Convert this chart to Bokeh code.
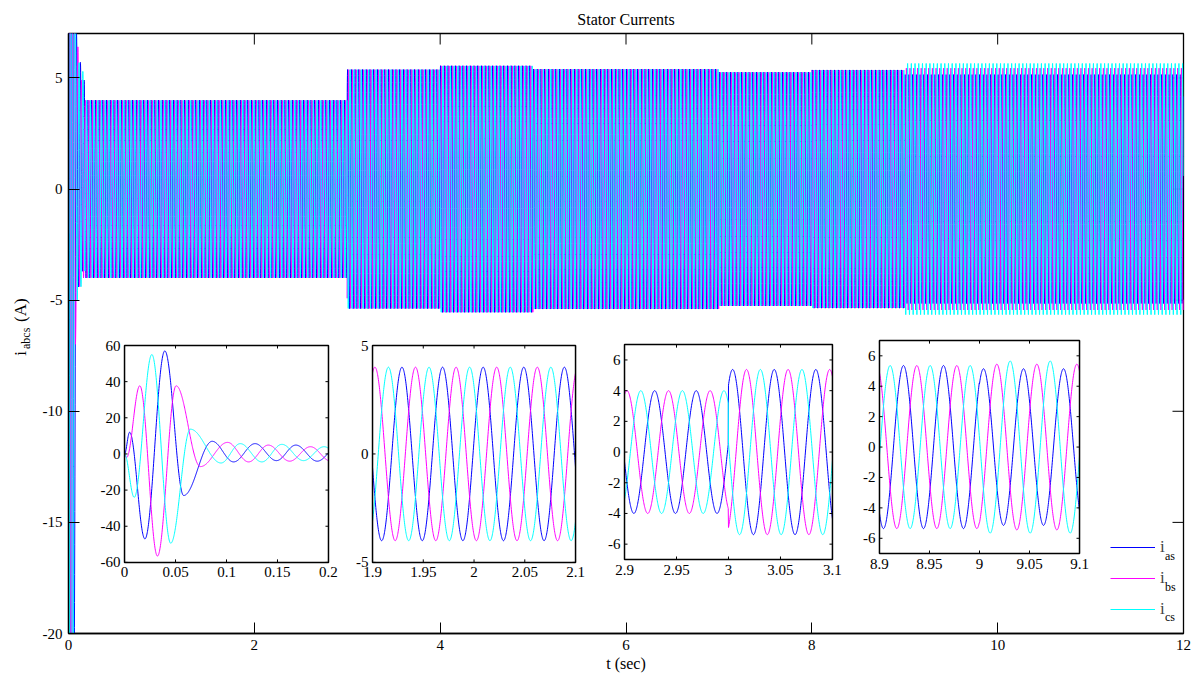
import numpy as np
from bokeh.plotting import figure
from bokeh.layouts import row
from bokeh.models import Range1d, Label, Legend, LegendItem, FixedTicker
from bokeh.core.properties import value
from bokeh.embed import file_html
from bokeh.resources import INLINE

FONT = "Liberation Serif"

# ------------------------------------------------------------------ data
TITLE = "Stator Currents"
X_LABEL = "t (sec)"
SUPPLY_HZ = 25.0          # electrical frequency
T_END = 12.0

# start-up transient: successive crests / troughs (t [s], i [A])
ext_t_as = [0.0, 0.005, 0.020, 0.0395, 0.058, 0.086, 0.107, 0.128, 0.149, 0.168, 0.189]
ext_i_as = [0.0, 12.0, -47.0, 57.0, -23.0, 7.0, -4.4, 5.7, -3.7, 4.9, -4.0]
ext_t_bs = [0.0, 0.002, 0.015, 0.0323, 0.0506, 0.0744, 0.101, 0.1217, 0.141, 0.162, 0.1823]
ext_i_bs = [0.0, -2.0, 37.7, -56.5, 37.7, -7.0, 6.4, -4.4, 4.9, -4.0, 4.0]
ext_t_cs = [0.0, 0.0095, 0.0268, 0.0453, 0.0646, 0.0946, 0.1135, 0.1347, 0.1543, 0.1755, 0.1957]
ext_i_cs = [0.0, -24.0, 55.0, -49.4, 13.7, -5.0, 5.7, -4.4, 5.3, -3.7, 4.0]

# steady-state segments between load steps: start, end and peak amplitude of each phase (A)
seg_start = [0.0, 3.0, 4.0, 5.0, 7.0, 8.0, 9.0]
seg_end = [3.0, 4.0, 5.0, 7.0, 8.0, 9.0, 12.0]
amp_as = [4.0, 5.38, 5.55, 5.40, 5.26, 5.36, 5.15]
amp_bs = [4.0, 5.38, 5.55, 5.40, 5.26, 5.36, 5.45]
amp_cs = [4.0, 5.38, 5.55, 5.40, 5.26, 5.36, 5.66]
crest_as = [1.929, 3.004, 3.004, 3.004, 3.004, 3.004, 3.004]   # time of an i_as crest in each segment

# main axes ticks
x_ticks = [0, 2, 4, 6, 8, 10, 12]
x_tick_labels = ["0", "2", "4", "6", "8", "10", "12"]
y_ticks = [-20, -15, -10, -5, 0, 5]
y_tick_labels = ["-20", "-15", "-10", "-5", "0", "5"]
Y_MIN, Y_MAX = -20, 7

# insets (zoomed windows)
inset_x_range = [(0.0, 0.2), (1.9, 2.1), (2.9, 3.1), (8.9, 9.1)]
inset_y_range = [(-60, 60), (-5, 5), (-7, 7), (-7, 7)]
inset_x_ticks = [[0, 0.05, 0.1, 0.15, 0.2], [1.9, 1.95, 2.0, 2.05, 2.1],
                 [2.9, 2.95, 3.0, 3.05, 3.1], [8.9, 8.95, 9.0, 9.05, 9.1]]
inset_x_labels = [["0", "0.05", "0.1", "0.15", "0.2"], ["1.9", "1.95", "2", "2.05", "2.1"],
                  ["2.9", "2.95", "3", "3.05", "3.1"], ["8.9", "8.95", "9", "9.05", "9.1"]]
inset_y_ticks = [[-60, -40, -20, 0, 20, 40, 60], [-5, 0, 5],
                 [-6, -4, -2, 0, 2, 4, 6], [-6, -4, -2, 0, 2, 4, 6]]
inset_y_labels = [["-60", "-40", "-20", "0", "20", "40", "60"], ["-5", "0", "5"],
                  ["-6", "-4", "-2", "0", "2", "4", "6"], ["-6", "-4", "-2", "0", "2", "4", "6"]]
# where each inset sits inside the main axes (t-left, t-right, i-bottom, i-top)
inset_box = [(0.603, 2.798, -16.80, -7.04), (3.272, 5.457, -16.80, -7.04),
             (5.984, 8.222, -16.67, -7.00), (8.728, 10.881, -16.40, -6.82)]

COL = {"as": "#0000FF", "bs": "#FF00FF", "cs": "#00FFFF"}
PERIOD = 1.0 / SUPPLY_HZ


# ------------------------------------------------------------------ waveform model
def interp_extrema(t, et, ei):
    et = np.asarray(et, float)
    ei = np.asarray(ei, float)
    idx = np.clip(np.searchsorted(et, t, side="right") - 1, 0, len(et) - 2)
    t0, t1 = et[idx], et[idx + 1]
    u = np.clip((t - t0) / (t1 - t0), 0.0, 1.0)
    w = (1.0 - np.cos(np.pi * u)) / 2.0
    return ei[idx] + (ei[idx + 1] - ei[idx]) * w


def steady(t, amps, shift):
    out = np.zeros_like(t)
    for k, (s, e, a, c) in enumerate(zip(seg_start, seg_end, amps, crest_as)):
        m = (t >= s) & ((t < e) if k < len(seg_start) - 1 else (t <= e))
        out[m] = a * np.cos(2 * np.pi * SUPPLY_HZ * (t[m] - c - shift))
    return out


def phase_current(t, et, ei, amps, shift):
    return np.where(t <= et[-1], interp_extrema(t, et, ei), steady(t, amps, shift))


PHASES = [
    ("as", ext_t_as, ext_i_as, amp_as, 0.0),
    ("bs", ext_t_bs, ext_i_bs, amp_bs, PERIOD / 3.0),
    ("cs", ext_t_cs, ext_i_cs, amp_cs, -PERIOD / 3.0),
]

# ------------------------------------------------------------------ y-axis label strip (left)
LBL_W = 36
lab = figure(width=LBL_W, height=683, x_range=Range1d(0, LBL_W), y_range=Range1d(683, 0),
             output_backend="svg", toolbar_location=None, x_axis_type=None, y_axis_type=None,
             min_border=0, min_border_left=0, min_border_right=0, min_border_top=0,
             min_border_bottom=0)
lab.outline_line_color = None
lab.xgrid.visible = False
lab.ygrid.visible = False
lab.background_fill_color = "white"
lab.border_fill_color = "white"
lab.add_layout(Label(x=20, y=364, text="i", angle=np.pi / 2, text_font=FONT,
                     text_font_size="17px", text_align="center", text_baseline="middle",
                     text_color="black"))
lab.add_layout(Label(x=25, y=347, text="abcs", angle=np.pi / 2, text_font=FONT,
                     text_font_size="12px", text_align="center", text_baseline="middle",
                     text_color="black"))
lab.add_layout(Label(x=20, y=315, text="(A)", angle=np.pi / 2, text_font=FONT,
                     text_font_size="17px", text_align="center", text_baseline="middle",
                     text_color="black"))

# ------------------------------------------------------------------ main figure
p = figure(width=1195 - LBL_W, height=683, x_range=Range1d(0, T_END), y_range=Range1d(Y_MIN, Y_MAX),
           output_backend="svg", toolbar_location=None, title=TITLE,
           min_border_left=68 - LBL_W, min_border_right=12, min_border_top=33, min_border_bottom=50)
p.background_fill_color = "white"
p.border_fill_color = "white"
p.xgrid.visible = False
p.ygrid.visible = False
p.outline_line_color = "black"
p.outline_line_width = 1.3
p.title.text_font = FONT
p.title.text_font_size = "16px"
p.title.text_font_style = "normal"
p.title.align = "center"
p.title.text_color = "black"
p.title.standoff = 11


def style_axis(ax, tick_len=11):
    ax.axis_line_color = "black"
    ax.axis_line_width = 1.3
    ax.major_tick_in = tick_len
    ax.major_tick_out = 0
    ax.major_tick_line_color = "black"
    ax.minor_tick_line_color = None
    ax.minor_tick_in = 0
    ax.minor_tick_out = 0
    ax.major_label_text_font = FONT
    ax.major_label_text_color = "black"
    ax.major_label_text_font_size = "15px"
    ax.major_label_standoff = 6


xa = p.xaxis[0]
xa.ticker = FixedTicker(ticks=x_ticks)
xa.major_label_overrides = {v: s for v, s in zip(x_ticks, x_tick_labels)}
style_axis(xa)
xa.axis_label = X_LABEL
xa.axis_label_text_font = FONT
xa.axis_label_text_font_size = "16px"
xa.axis_label_text_font_style = "normal"
xa.axis_label_text_color = "black"
xa.axis_label_standoff = 2

ya = p.yaxis[0]
ya.ticker = FixedTicker(ticks=y_ticks)
ya.major_label_overrides = {v: s for v, s in zip(y_ticks, y_tick_labels)}
style_axis(ya)

# mirrored inward ticks on the top and right edges of the box
p.ray(x=x_ticks, y=[Y_MAX] * len(x_ticks), length=11, length_units="screen", angle=-np.pi / 2,
      line_color="black", line_width=1)
p.ray(x=[T_END] * len(y_ticks), y=y_ticks, length=11, length_units="screen", angle=np.pi,
      line_color="black", line_width=1)

t_main = np.arange(0.0, T_END + 1e-9, 0.001)
main_renderers = []
for name, et, ei, amps, shift in PHASES:
    r = p.line(t_main, phase_current(t_main, et, ei, amps, shift), line_color=COL[name], line_width=1)
    main_renderers.append(r)

# ------------------------------------------------------------------ insets
for k in range(len(inset_x_range)):
    x0, x1 = inset_x_range[k]
    y0, y1 = inset_y_range[k]
    bx0, bx1, by0, by1 = inset_box[k]
    sub = p.subplot(x_source=Range1d(x0, x1), y_source=Range1d(y0, y1),
                    x_target=Range1d(bx0, bx1), y_target=Range1d(by0, by1))
    sub.quad(left=[x0], right=[x1], bottom=[y0], top=[y1], fill_color="white", line_color=None)
    t_in = np.linspace(x0, x1, 801)
    for name, et, ei, amps, shift in PHASES:
        sub.line(t_in, phase_current(t_in, et, ei, amps, shift), line_color=COL[name], line_width=1)
    sub.quad(left=[x0], right=[x1], bottom=[y0], top=[y1], fill_color=None,
             line_color="black", line_width=1.5)
    xt = inset_x_ticks[k]
    yt = inset_y_ticks[k]
    sub.ray(x=xt, y=[y0] * len(xt), length=3, length_units="screen", angle=np.pi / 2,
            line_color="black", line_width=1)
    sub.ray(x=xt, y=[y1] * len(xt), length=3, length_units="screen", angle=-np.pi / 2,
            line_color="black", line_width=1)
    sub.ray(x=[x0] * len(yt), y=yt, length=3, length_units="screen", angle=0,
            line_color="black", line_width=1)
    sub.ray(x=[x1] * len(yt), y=yt, length=3, length_units="screen", angle=np.pi,
            line_color="black", line_width=1)
    sub.text(x=xt, y=[y0] * len(xt), text=inset_x_labels[k], text_align="center",
             text_baseline="top", y_offset=5, text_font=value(FONT), text_font_size="15px",
             text_color="black")
    sub.text(x=[x0] * len(yt), y=yt, text=inset_y_labels[k], text_align="right",
             text_baseline="middle", x_offset=-4, text_font=value(FONT), text_font_size="15px",
             text_color="black")

# ------------------------------------------------------------------ legend
legend = Legend(items=[LegendItem(label=value("i"), renderers=[r]) for r in main_renderers],
                location=(1042, 14), glyph_width=45, glyph_height=20, label_height=20,
                spacing=11, padding=0, margin=0, label_standoff=5,
                label_text_font=FONT, label_text_font_size="17px",
                background_fill_alpha=0, border_line_alpha=0)
p.add_layout(legend)

for sub_txt, yv in zip(["as", "bs", "cs"], [-16.49, -17.89, -19.24]):
    p.add_layout(Label(x=11.80, y=yv, text=sub_txt, text_font=FONT, text_font_size="12px",
                       text_align="left", text_baseline="middle", text_color="black"))

layout = row(lab, p, spacing=0)
open("out.html", "w").write(file_html(layout, INLINE))
